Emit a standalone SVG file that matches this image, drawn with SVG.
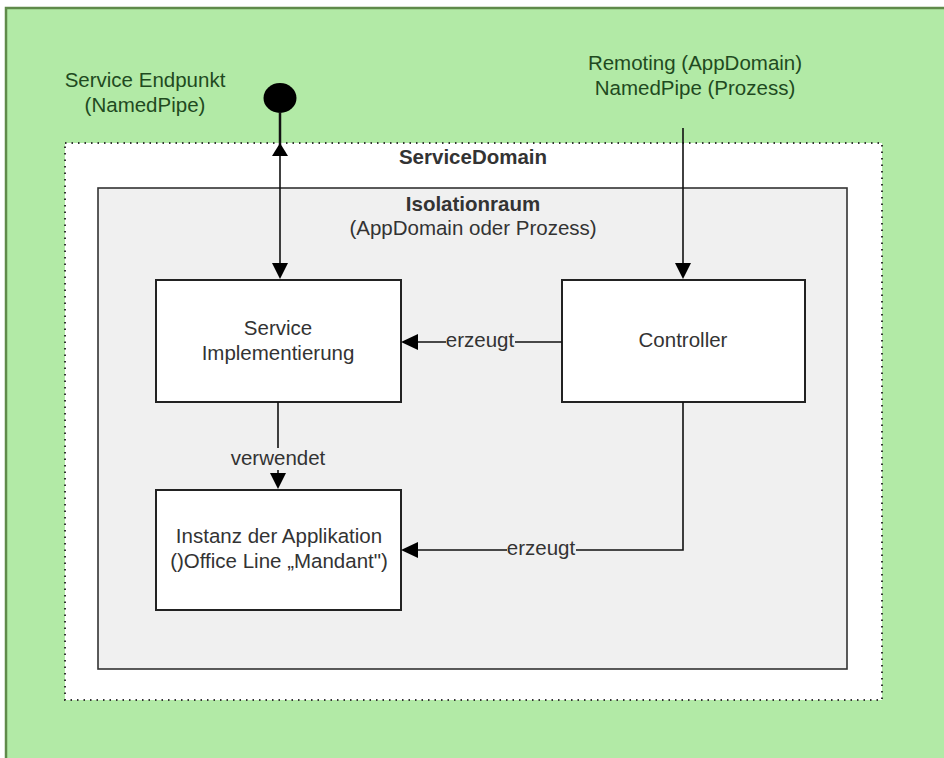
<svg xmlns="http://www.w3.org/2000/svg" width="944" height="758" viewBox="0 0 944 758">
<style>
.lbl{font-family:"Liberation Sans",Arial,sans-serif;font-size:20.5px;text-anchor:middle}
.out{fill:#1f4a1f}
.in{fill:#333333}
.b{font-weight:bold}
.box{fill:#ffffff;stroke:#222222;stroke-width:2}
.con{fill:none;stroke:#111111;stroke-width:1.6}
.ah{fill:#000000}
</style>
<rect width="944" height="758" fill="#ffffff"/>
<g id="outer">
<rect x="6" y="8" width="940" height="754" fill="#b2eaa6" stroke="#5f8a4a" stroke-width="2.5"/>
<text class="lbl out" x="145" y="87">Service Endpunkt</text>
<text class="lbl out" x="145" y="112">(NamedPipe)</text>
<text class="lbl out" x="695" y="70">Remoting (AppDomain)</text>
<text class="lbl out" x="695" y="95">NamedPipe (Prozess)</text>
</g>
<g id="servicedomain">
<rect x="65" y="143" width="817" height="557" fill="#ffffff" stroke="#333333" stroke-width="2" stroke-dasharray="1.5,5"/>
<text class="lbl in b" x="473" y="164">ServiceDomain</text>
</g>
<g id="isolationraum">
<rect x="98" y="188" width="749" height="481" fill="#f0f0f0" stroke="#333333" stroke-width="1.6"/>
<text class="lbl in b" x="473" y="211">Isolationraum</text>
<text class="lbl in" x="473" y="235">(AppDomain oder Prozess)</text>
</g>
<g id="endpoint">
<ellipse cx="280" cy="98" rx="16.5" ry="15" fill="#000000"/>
</g>
<g id="service">
<rect class="box" x="156" y="280" width="245" height="122"/>
<text class="lbl in" x="278" y="335">Service</text>
<text class="lbl in" x="278" y="360">Implementierung</text>
</g>
<g id="controller">
<rect class="box" x="562" y="280" width="243" height="122"/>
<text class="lbl in" x="683" y="347">Controller</text>
</g>
<g id="instanz">
<rect class="box" x="156" y="490" width="245" height="120"/>
<text class="lbl in" x="279" y="543">Instanz der Applikation</text>
<text class="lbl in" x="279" y="568">()Office Line „Mandant")</text>
</g>
<g id="connectors">
<line x1="280" y1="112" x2="280" y2="145" stroke="#111111" stroke-width="2.5"/>
<path class="con" d="M280,150 L280,266"/>
<path class="ah" d="M280,143 L272,156 L288,156 Z"/>
<path class="ah" d="M280,279 L272,263 L288,263 Z"/>
<path class="con" d="M683,128 L683,266"/>
<path class="ah" d="M683,279 L675,263 L691,263 Z"/>
<path class="con" d="M562,342 L415,342"/>
<path class="ah" d="M401,342 L418,334 L418,350 Z"/>
<rect x="446" y="332" width="69" height="20" fill="#f0f0f0"/>
<text class="lbl in" x="480" y="347">erzeugt</text>
<path class="con" d="M278,402 L278,476"/>
<rect x="230" y="448" width="96" height="22" fill="#f0f0f0"/>
<text class="lbl in" x="278" y="465">verwendet</text>
<path class="ah" d="M278,489 L270,473 L286,473 Z"/>
<path class="con" d="M683,402 L683,550 L415,550"/>
<path class="ah" d="M401,550 L418,542 L418,558 Z"/>
<rect x="507" y="540" width="69" height="20" fill="#f0f0f0"/>
<text class="lbl in" x="541" y="555">erzeugt</text>
</g>
</svg>
